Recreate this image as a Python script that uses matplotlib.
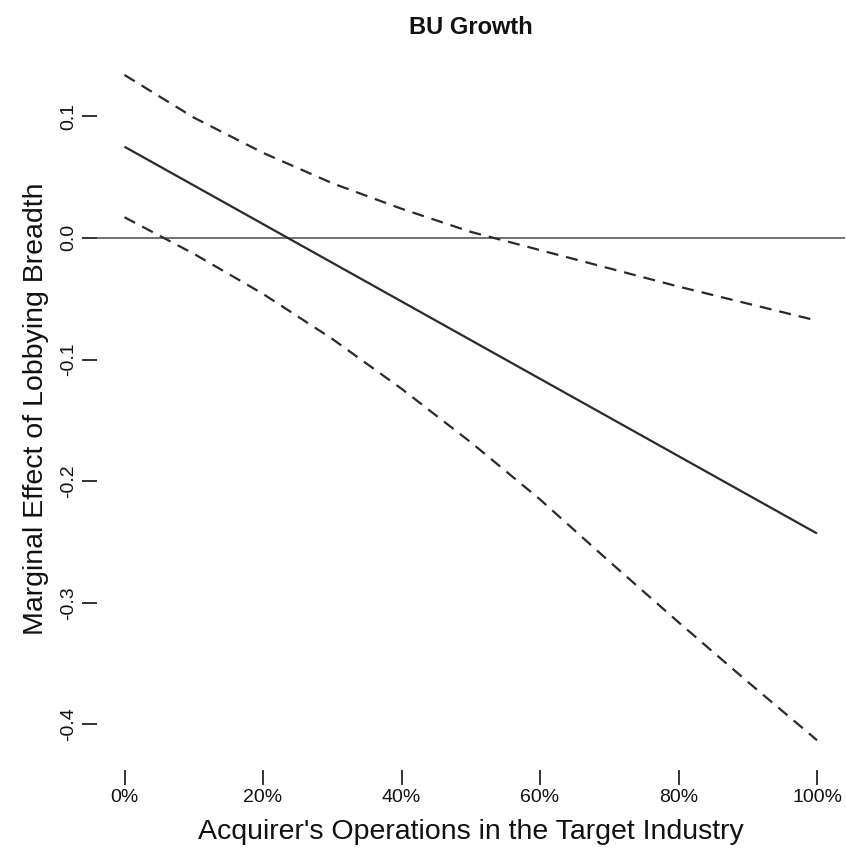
import matplotlib
matplotlib.use("Agg")
import matplotlib.pyplot as plt

# Share of acquirer's operations in the target industry
share = [0.0, 0.1, 0.2, 0.3, 0.4, 0.5, 0.6, 0.7, 0.8, 0.9, 1.0]
# Marginal effect of lobbying breadth and its confidence bounds
effect = [0.0750, 0.0432, 0.0114, -0.0204, -0.0522, -0.0840, -0.1158, -0.1476,
          -0.1794, -0.2112, -0.2430]
upper = [0.134, 0.099, 0.070, 0.045, 0.024, 0.005, -0.010, -0.025, -0.040, -0.054, -0.068]
lower = [0.017, -0.013, -0.046, -0.083, -0.124, -0.168, -0.215, -0.266, -0.316, -0.365, -0.413]

xticks = [0.0, 0.2, 0.4, 0.6, 0.8, 1.0]
xticklabels = ["0%", "20%", "40%", "60%", "80%", "100%"]
yticks = [-0.4, -0.3, -0.2, -0.1, 0.0, 0.1]
yticklabels = ["-0.4", "-0.3", "-0.2", "-0.1", "0.0", "0.1"]

plt.rcParams["font.family"] = ["Liberation Sans", "DejaVu Sans"]

W, H = 846, 850
fig = plt.figure(figsize=(W / 100, H / 100), dpi=100)
ax = fig.add_axes([96.8 / W, 1 - 770 / H, (844.7 - 96.8) / W, (770 - 47) / H])

ax.axhline(0, color="#4a4a4a", lw=1.1, zorder=1)
ax.plot(share, effect, color="#2a2a2a", lw=1.6, solid_capstyle="butt",
        solid_joinstyle="round", zorder=3)
for band in (upper, lower):
    ax.plot(share, band, color="#2a2a2a", lw=1.6, dashes=(5.4, 3.6),
            dash_capstyle="butt", dash_joinstyle="round", zorder=2)

ax.set_xlim(-0.04, 1.04)
ax.set_ylim(-0.4375, 0.157)

for side in ("top", "right", "bottom", "left"):
    ax.spines[side].set_visible(False)

ax.set_xticks(xticks)
ax.set_xticklabels(xticklabels, fontsize=14)
ax.set_yticks(yticks)
ax.set_yticklabels(yticklabels, fontsize=14, rotation=90, va="center")
ax.tick_params(axis="both", direction="out", length=11, width=1.2, color="#111111",
               labelcolor="#111111")
ax.tick_params(axis="x", pad=3)
ax.tick_params(axis="y", pad=3)

ax.set_xlabel("Acquirer's Operations in the Target Industry", fontsize=20.5,
              color="#111111", labelpad=9)
ax.set_ylabel("Marginal Effect of Lobbying Breadth", fontsize=20.5,
              color="#111111", labelpad=8)
fig.text((96.8 + 844.7) / 2 / W, 1 - 27 / H, "BU Growth", ha="center", va="center",
         fontsize=17, fontweight="bold", color="#111111")

fig.savefig("out.png", dpi=100, facecolor="white")
